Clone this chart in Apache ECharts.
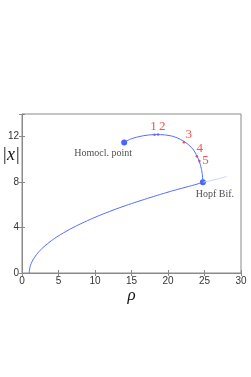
<!DOCTYPE html>
<html><head><meta charset="utf-8">
<script src="https://cdn.jsdelivr.net/npm/echarts@6/dist/echarts.min.js"></script>
<style>html,body{margin:0;padding:0;background:#fff}#c{width:251px;height:377px}</style>
</head><body><div id="c"></div>
<script>
var lowerRho = [1, 1.05, 1.2, 1.5, 2, 2.5, 3, 4, 5, 6, 7, 8, 10, 12, 14, 16, 18, 20, 22, 24, 24.78];
var lowerX   = [0, 0.37, 0.73, 1.15, 1.63, 2.0, 2.31, 2.83, 3.27, 3.65, 4.0, 4.32, 4.9, 5.42, 5.89, 6.32, 6.73, 7.12, 7.48, 7.83, 8.0];
var fadedRho = [24.78, 26, 28];
var fadedX   = [8.0, 8.16, 8.49];
var upperRho = [14.0, 14.5, 15, 16, 17, 18, 18.5, 19, 20, 21, 22, 22.5, 23, 23.5, 24, 24.3, 24.5, 24.65, 24.74, 24.78];
var upperX   = [11.49, 11.68, 11.82, 12.0, 12.12, 12.18, 12.19, 12.18, 12.12, 11.96, 11.66, 11.45, 11.18, 10.82, 10.25, 9.8, 9.35, 8.9, 8.4, 8.0];
var ptNames = ['1', '2', '3', '4', '5'];
var ptRho   = [18.15, 18.65, 22.17, 23.95, 24.3];
var ptX     = [12.18, 12.19, 11.52, 10.29, 9.87];
var ptOffsets = [[-1, -8], [4, -8], [5, -8], [3, -8], [6, 0]];
var endNames = ['Homocl. point', 'Hopf Bif.'];
var endRho = [14.0, 24.78];
var endX = [11.49, 8.0];
var endOffsets = [[-21, 11], [12, 12]];
var xTicks = [0, 5, 10, 15, 20, 25, 30];
var yTicks = [0, 4, 8, 12];

function zip(a, b) { return a.map(function (v, i) { return [v, b[i]]; }); }

var axisCol = '#8a8a8a';
var chart = echarts.init(document.getElementById('c'));
chart.setOption({
  animation: false,
  grid: { left: 22, right: 10, top: 114, bottom: 104, containLabel: false, outerBoundsMode: 'none',
    show: true, borderColor: axisCol, borderWidth: 1, backgroundColor: 'transparent' },
  graphic: [
    { type: 'text', left: 2, top: 146, style: { text: '|x|', fontSize: 18, fontStyle: 'italic',
      fontFamily: 'Liberation Serif', fill: '#111' } }
  ],
  xAxis: [
    { type: 'value', min: 0, max: 30, interval: 5, position: 'bottom',
      axisLine: { show: true, lineStyle: { color: axisCol } },
      axisTick: { show: true, inside: true, length: 3, lineStyle: { color: axisCol } },
      axisLabel: { color: '#333', fontSize: 10, fontFamily: 'Liberation Sans', margin: 3,
        formatter: function (v) { return xTicks.indexOf(v) >= 0 ? String(v) : ''; } },
      splitLine: { show: false },
      name: 'ρ', nameLocation: 'middle', nameGap: 11,
      nameTextStyle: { fontSize: 17, fontStyle: 'italic', fontFamily: 'Liberation Serif', color: '#111' } },
    { type: 'value', min: 0, max: 30, interval: 5, position: 'top',
      axisLine: { show: true, lineStyle: { color: axisCol } },
      axisTick: { show: true, inside: true, length: 3, lineStyle: { color: axisCol } },
      axisLabel: { show: false }, splitLine: { show: false } }
  ],
  yAxis: [
    { type: 'value', min: 0, max: 14, interval: 4, position: 'left',
      axisLine: { show: true, lineStyle: { color: axisCol } },
      axisTick: { show: true, inside: true, length: 3, lineStyle: { color: axisCol } },
      axisLabel: { color: '#333', fontSize: 10, fontFamily: 'Liberation Sans', margin: 3,
        formatter: function (v) { return yTicks.indexOf(v) >= 0 ? String(v) : ''; } },
      splitLine: { show: false } },
    { type: 'value', min: 0, max: 14, interval: 4, position: 'right',
      axisLine: { show: true, lineStyle: { color: axisCol } },
      axisTick: { show: true, inside: true, length: 3, lineStyle: { color: axisCol } },
      axisLabel: { show: false }, splitLine: { show: false } }
  ],
  series: [
    { type: 'line', data: zip(fadedRho, fadedX), showSymbol: false, smooth: true,
      lineStyle: { color: '#c9d3ff', width: 1 } },
    { type: 'line', data: zip(lowerRho, lowerX), showSymbol: false, smooth: true,
      lineStyle: { color: '#5068ff', width: 1 } },
    { type: 'line', data: zip(upperRho, upperX), showSymbol: false, smooth: true,
      lineStyle: { color: '#5068ff', width: 1 } },
    { type: 'scatter', symbolSize: 2.5, itemStyle: { color: '#ff2020' },
      data: ptRho.map(function (r, i) {
        return { value: [r, ptX[i]], name: ptNames[i],
          label: { show: true, position: 'inside', offset: ptOffsets[i], formatter: ptNames[i],
            color: '#ff2020', fontSize: 13, fontFamily: 'Liberation Serif' } };
      }) },
    { type: 'scatter', symbolSize: 6, itemStyle: { color: '#1a3cff' },
      data: endRho.map(function (r, i) {
        return { value: [r, endX[i]], name: endNames[i],
          label: { show: true, position: 'inside', offset: endOffsets[i], formatter: endNames[i],
            color: '#222', fontSize: 10, fontFamily: 'Liberation Serif' } };
      }) }
  ]
});
</script></body></html>
